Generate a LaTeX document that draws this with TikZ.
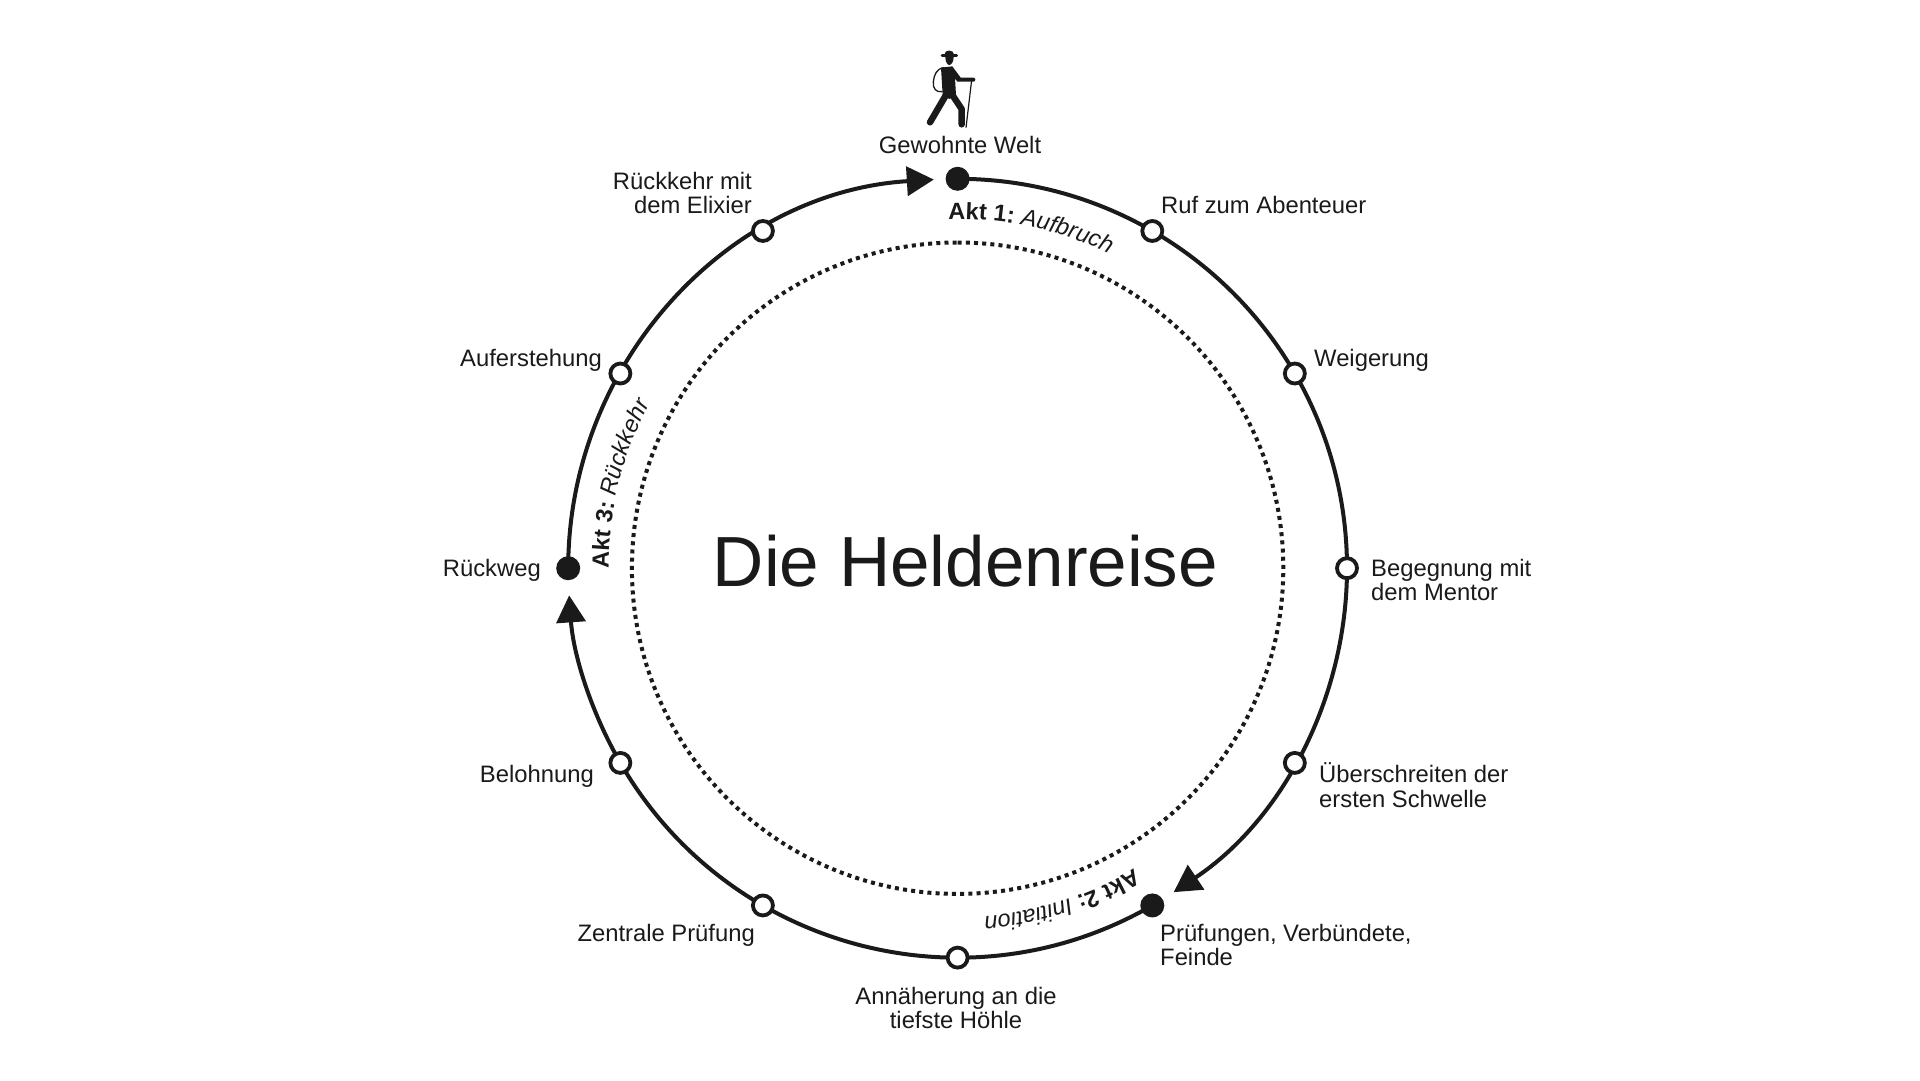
\documentclass[tikz,border=0pt]{standalone}
\usepackage{fontspec}
\setmainfont{Liberation Sans}
\usetikzlibrary{arrows.meta,decorations.text}
\definecolor{ink}{HTML}{1A1A1A}
\newcommand{\labfont}{\fontsize{23.8}{24.5}\selectfont}
\newcommand{\actfont}{\fontsize{23.5}{23.5}\selectfont}
\tikzset{
  x=1pt,y=1pt,
  lab/.style={font=\labfont,text=ink,inner sep=0pt},
  labw/.style={lab,anchor=west,align=left},
  labe/.style={lab,anchor=east,align=right},
  labc/.style={lab,anchor=center,align=center},
  openst/.style={circle,draw=ink,line width=3.8pt,fill=white,minimum size=20pt,inner sep=0pt},
  fullst/.style={circle,fill=ink,minimum size=24pt,inner sep=0pt},
  ring/.style={draw=ink,line width=4pt},
  arrowring/.style={ring,-{Triangle[length=27pt,width=29pt]}},
  acttext/.style={decoration={text along path,text color=ink,text={#1}},decorate},
  hike/.style={draw=ink,line cap=round,line join=round},
}
\begin{document}
\begin{tikzpicture}
\useasboundingbox[fill=white] (0,-1080) rectangle (1920,0);
\def\cx{957.6}\def\cy{-568.2}\def\R{389.4}\def\Ri{325.7}\def\Rt{349}
% anchor points of the ring
\coordinate (mid) at (\cx,\cy);
\foreach \n/\a in {0/0,1/30,2/60,3/90,4/120,5/150,6/180,7/210,8/240,9/270,10/300,11/330}{
  \coordinate (p\n) at ({\cx+\R*sin(\a)},{\cy+\R*cos(\a)});
}
\coordinate (ta) at ({\cx+\Rt*sin(-1.5)},{\cy+\Rt*cos(-1.5)});
\coordinate (tb) at ({\cx+\Rt*sin(149.5)},{\cy+\Rt*cos(149.5)});
\coordinate (tc) at ({\cx+\Rt*sin(270)},{\cy+\Rt*cos(270)});
\coordinate (ib) at ({\cx},{\cy+\Ri});
% inner dotted circle
\draw[draw=ink,line width=4pt,dash pattern=on 4pt off 4.2pt] (ib) arc[start angle=90,end angle=-270,radius=\Ri];
% ring segments
\draw[arrowring] (p0) arc[start angle=90,end angle=90-146.3,radius=\R];
\draw[arrowring] (p5) arc[start angle=90-150,end angle=90-266,radius=\R];
\draw[arrowring] (p9) arc[start angle=90-270,end angle=90-356.5,radius=\R];
% stations
\foreach \n in {0,5,9}{\node[fullst] (s\n) at (p\n) {};}
\foreach \n in {1,2,3,4,6,7,8,10,11}{\node[openst] (s\n) at (p\n) {};}
% act labels on the ring
\path[acttext={|\actfont\bfseries|Akt 1: |\actfont\mdseries\itshape|Aufbruch}]
  (ta) arc[start angle=90+1.5,end angle=90-50,radius=\Rt];
\path[acttext={|\actfont\bfseries|Akt 2: |\actfont\mdseries\itshape|Initiation}]
  (tb) arc[start angle=90-149.5,end angle=90-200,radius=\Rt];
\path[acttext={|\actfont\bfseries|Akt 3: |\actfont\mdseries\itshape|Rückkehr}]
  (tc) arc[start angle=90-270,end angle=90-320,radius=\Rt];
% labels
\node[labc] (l0) at (960,-144.5) {Gewohnte Welt};
\node[labw] (l1) at (1161,-204.5) {Ruf zum Abenteuer};
\node[labw] (l2) at (1314,-360) {Weigerung};
\node[labw] (l3) at (1371,-580) {Begegnung mit\\dem Mentor};
\node[labw] (l4) at (1319,-785) {Überschreiten der\\ersten Schwelle};
\node[labw] (l5) at (1160,-945) {Prüfungen, Verbündete,\\Feinde};
\node[labc] (l6) at (956,-1008) {Annäherung an die\\tiefste Höhle};
\node[labe] (l7) at (755,-935) {Zentrale Prüfung};
\node[labe] (l8) at (594,-776) {Belohnung};
\node[labe] (l9) at (541,-570) {Rückweg};
\node[labe] (l10) at (602,-360) {Auferstehung};
\node[labe] (l11) at (752,-193) {Rückkehr mit\\dem Elixier};
\node[font=\fontsize{71}{71}\selectfont,text=ink,inner sep=0pt] (title) at (965.5,-561) {Die Heldenreise};
% hiker
\begin{scope}[shift={(920,-45)},xscale=1/3,yscale=-1/3]
  \draw[hike,line width=1.3pt] (72,68) .. controls (50,70) and (42,90) .. (40,110) .. controls (38,130) and (48,143) .. (66,140);
  \fill[ink] (63,68) -- (97,64) -- (122,98) -- (160,98) arc[start angle=-90,end angle=90,radius=6] -- (112,110) -- (105,100) -- (108,150) -- (88,162) -- (68,150) -- cycle;
  \draw[hike,line width=6.5pt] (78,150) -- (30,232);
  \draw[hike,line width=6.5pt] (97,150) -- (125,192) -- (125,238);
  \draw[hike,line width=1.2pt,line cap=butt] (155,105) -- (138,248);
  \draw[hike,line width=2.6pt] (66,31) -- (110,31);
  \fill[ink] (73,30) .. controls (72,12) and (102,12) .. (103,30) -- cycle;
  \fill[ink] (76,36) -- (101,36) .. controls (101,50) and (94,60) .. (88,60) .. controls (82,60) and (76,50) .. (76,36) -- cycle;
\end{scope}
\end{tikzpicture}
\end{document}
